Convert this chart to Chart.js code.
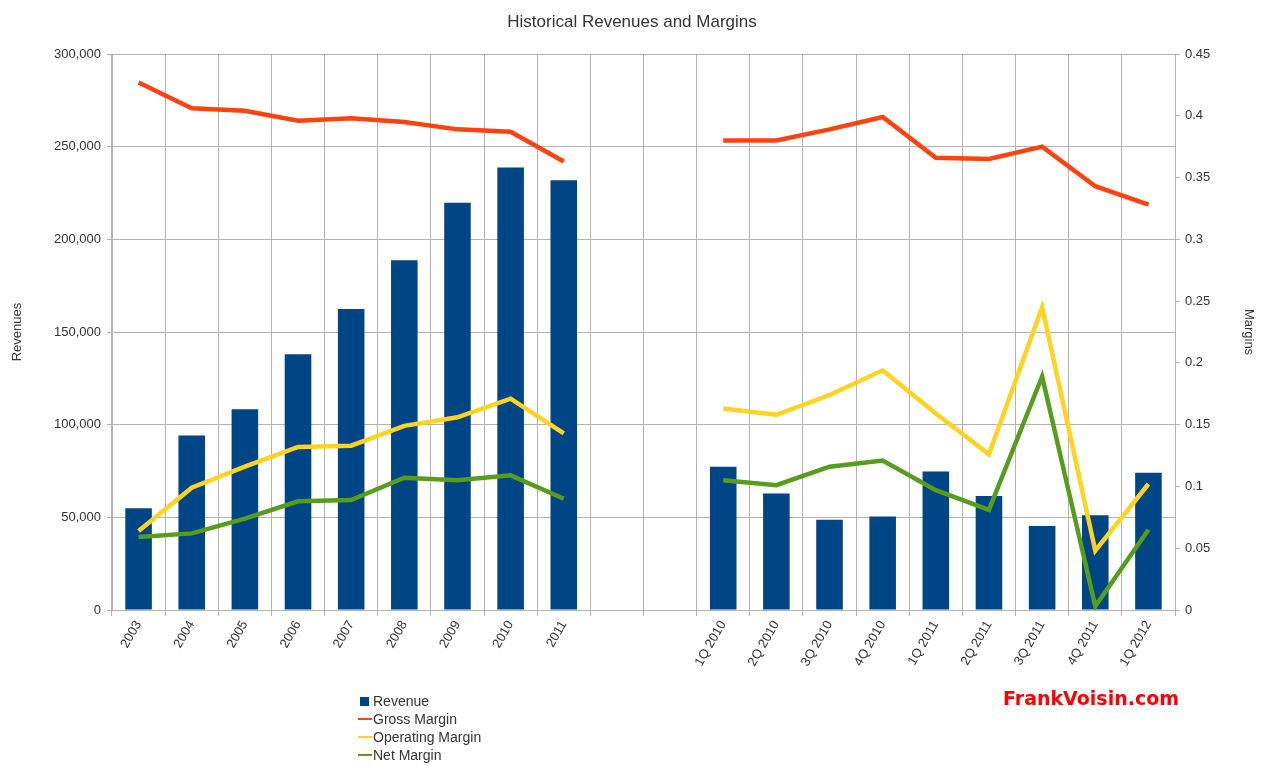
<!DOCTYPE html>
<html>
<head>
<meta charset="utf-8">
<title>Historical Revenues and Margins</title>
<script src="https://cdn.jsdelivr.net/npm/chart.js@4.4.0/dist/chart.umd.min.js"></script>
<style>
    body { margin: 0; background: #fff; }
    #wrap { position: relative; width: 1264px; height: 770px; }
    #legend { position: absolute; left: 358px; top: 692px; font: 14px "Liberation Sans", Arial, sans-serif; color: #333; }
    #legend .row { height: 18px; line-height: 18px; display: flex; align-items: center; }
    #legend .mk { width: 14px; height: 18px; position: relative; margin-right: 1px; }
    #legend .sq { position: absolute; left: 2px; top: 5px; width: 9px; height: 9px; }
    #legend .ln { position: absolute; left: 0; top: 8px; width: 14px; height: 2px; }
    #brand { position: absolute; left: 1003px; top: 687px; font: bold 19px "DejaVu Sans", sans-serif; color: #ff0000; }
</style>
</head>
<body>
<div id="wrap">
    <canvas id="myChart" width="1264" height="770"></canvas>
    <div id="legend"></div>
    <div id="brand">FrankVoisin.com</div>
</div>
<script>
// categories: years, two empty slots, then quarters
const categories = ['2003', '2004', '2005', '2006', '2007', '2008', '2009', '2010', '2011', '', '',
    '1Q 2010', '2Q 2010', '3Q 2010', '4Q 2010', '1Q 2011', '2Q 2011', '3Q 2011', '4Q 2011', '1Q 2012'];

const revenue = [54900, 94100, 108300, 138000, 162400, 188700, 219800, 238700, 231900, null, null,
    77300, 62800, 48700, 50500, 74700, 61500, 45300, 51100, 74100];

const grossMargin = [0.427, 0.406, 0.404, 0.396, 0.398, 0.395, 0.389, 0.387, 0.363, null, null,
    0.380, 0.380, 0.389, 0.399, 0.366, 0.365, 0.375, 0.343, 0.328];

const operatingMargin = [0.064, 0.099, 0.116, 0.132, 0.133, 0.149, 0.156, 0.171, 0.143, null, null,
    0.163, 0.158, 0.174, 0.194, 0.159, 0.126, 0.245, 0.048, 0.102];

const netMargin = [0.059, 0.062, 0.074, 0.088, 0.089, 0.107, 0.105, 0.109, 0.090, null, null,
    0.105, 0.101, 0.116, 0.121, 0.097, 0.081, 0.189, 0.003, 0.065];

const revenueTicks = [0, 50000, 100000, 150000, 200000, 250000, 300000];
const marginTicks = [0, 0.05, 0.1, 0.15, 0.2, 0.25, 0.3, 0.35, 0.4, 0.45];

window.onload = function () {
    const ctx = document.getElementById('myChart').getContext('2d');
    const gridColor = '#b3b3b3';
    const txt = '#333333';
    const font13 = { family: '"Liberation Sans", Arial, sans-serif', size: 13 };

    function lineSet(label, data, color) {
        return {
            type: 'line',
            label: label,
            data: data,
            yAxisID: 'y1',
            borderColor: color,
            backgroundColor: color,
            borderWidth: 4.5,
            pointRadius: 0,
            tension: 0,
            spanGaps: false,
            order: 1
        };
    }

    const chart = new Chart(ctx, {
        type: 'bar',
        data: {
            labels: categories,
            datasets: [
                {
                    label: 'Revenue',
                    data: revenue,
                    yAxisID: 'y',
                    backgroundColor: '#004586',
                    barPercentage: 0.5,
                    categoryPercentage: 1,
                    order: 2
                },
                lineSet('Gross Margin', grossMargin, '#ff420e'),
                lineSet('Operating Margin', operatingMargin, '#ffd320'),
                lineSet('Net Margin', netMargin, '#579d1c')
            ]
        },
        options: {
            responsive: false,
            animation: false,
            layout: { padding: 0 },
            plugins: {
                legend: { display: false },
                tooltip: { enabled: false },
                title: {
                    display: true,
                    text: 'Historical Revenues and Margins',
                    color: txt,
                    font: { family: '"Liberation Sans", Arial, sans-serif', size: 17, weight: 'normal' },
                    padding: { top: 12, bottom: 21.6 }
                }
            },
            scales: {
                x: {
                    offset: true,
                    grid: { color: gridColor, offset: true, tickLength: 6 },
                    border: { color: gridColor },
                    ticks: {
                        color: txt, font: font13, autoSkip: false,
                        maxRotation: 60, minRotation: 60, padding: 2
                    },
                    afterFit: function (scale) { scale.height = 160; }
                },
                y: {
                    position: 'left',
                    min: 0,
                    max: 300000,
                    afterBuildTicks: function (scale) {
                        scale.ticks = revenueTicks.map(v => ({ value: v }));
                    },
                    grid: { color: gridColor, tickLength: 5 },
                    border: { color: gridColor },
                    ticks: {
                        color: txt, font: font13, padding: 6,
                        callback: v => v.toLocaleString('en-US')
                    },
                    title: {
                        display: true, text: 'Revenues', color: txt, font: font13,
                        padding: { top: 10, bottom: 0 }
                    },
                    afterFit: function (scale) { scale.width = 112; }
                },
                y1: {
                    position: 'right',
                    min: 0,
                    max: 0.45,
                    afterBuildTicks: function (scale) {
                        scale.ticks = marginTicks.map(v => ({ value: v }));
                    },
                    grid: { drawOnChartArea: false, color: gridColor, tickLength: 5 },
                    border: { color: gridColor },
                    ticks: {
                        color: txt, font: font13, padding: 5,
                        callback: v => String(+v.toFixed(2))
                    },
                    title: {
                        display: true, text: 'Margins', color: txt, font: font13,
                        padding: { top: 8, bottom: 0 }
                    },
                    afterFit: function (scale) { scale.width = 89; }
                }
            }
        }
    });

    // legend down the left, one entry per row
    const legend = document.getElementById('legend');
    chart.data.datasets.forEach(function (ds) {
        const row = document.createElement('div');
        row.className = 'row';
        const mk = document.createElement('span');
        mk.className = 'mk';
        const sw = document.createElement('span');
        sw.className = ds.type === 'line' ? 'ln' : 'sq';
        sw.style.background = ds.type === 'line' ? ds.borderColor : ds.backgroundColor;
        mk.appendChild(sw);
        const lbl = document.createElement('span');
        lbl.textContent = ds.label;
        row.appendChild(mk);
        row.appendChild(lbl);
        legend.appendChild(row);
    });
};
</script>
</body>
</html>
